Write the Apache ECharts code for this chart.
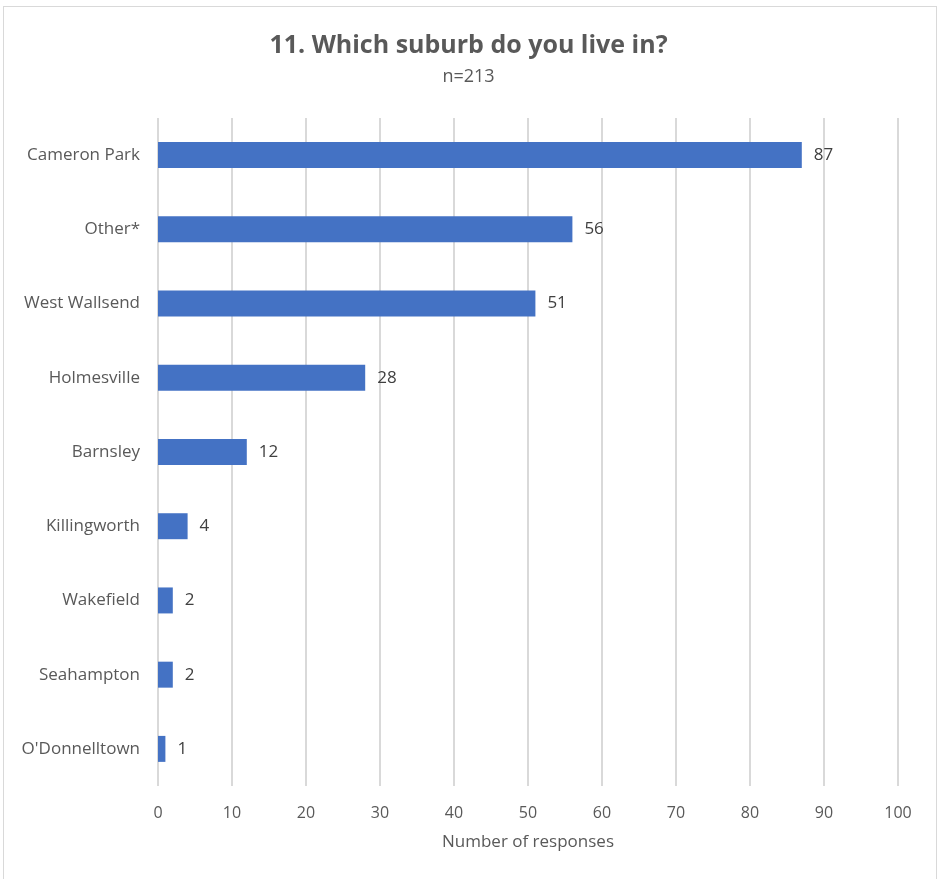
<!DOCTYPE html>
<html><head><meta charset="utf-8">
<script src="https://cdn.jsdelivr.net/npm/echarts@6/dist/echarts.min.js"></script>
<style>html,body{margin:0;padding:0;background:#fff}#c{width:937px;height:879px}
#b{position:absolute;left:3px;top:6px;width:932px;height:880px;border:1px solid #d9d9d9;pointer-events:none}</style>
</head><body><div id="c"></div><div id="b"></div>
<script>
const categories = ["Cameron Park","Other*","West Wallsend","Holmesville","Barnsley","Killingworth","Wakefield","Seahampton","O'Donnelltown"];
const values = [87,56,51,28,12,4,2,2,1];
const xTicks = [0,10,20,30,40,50,60,70,80,90,100];
const font = "'Open Sans', 'Noto Sans', sans-serif";
const chart = echarts.init(document.getElementById('c'));
chart.setOption({
  animation:false,
  title:[{text:"11. Which suburb do you live in?",left:'center',top:26,
    textStyle:{fontSize:25,fontWeight:'bold',color:'#595959',fontFamily:font,lineHeight:30}},
    {text:"n=213",left:'center',top:60,
    textStyle:{fontSize:18,fontWeight:'normal',color:'#595959',fontFamily:font,lineHeight:24}}],
  grid:{left:158,right:39,top:118,bottom:93},
  xAxis:{type:'value',min:xTicks[0],max:xTicks[xTicks.length-1],interval:10,
    name:'Number of responses',nameLocation:'middle',nameGap:48,
    nameTextStyle:{fontSize:17,color:'#595959',fontFamily:font},
    axisLine:{show:false},axisTick:{show:false},
    axisLabel:{fontSize:16,color:'#595959',fontFamily:font,margin:19},
    splitLine:{lineStyle:{color:'#d9d9d9',width:2}}},
  yAxis:{type:'category',data:categories,inverse:true,
    axisLine:{show:false},axisTick:{show:false},
    axisLabel:{fontSize:17,color:'#595959',fontFamily:font,margin:18}},
  series:[{type:'bar',data:values,barWidth:'35%',itemStyle:{color:'#4472C4'},
    label:{show:true,position:'right',distance:12,fontSize:17,color:'#404040',fontFamily:font}}]
});
</script></body></html>
